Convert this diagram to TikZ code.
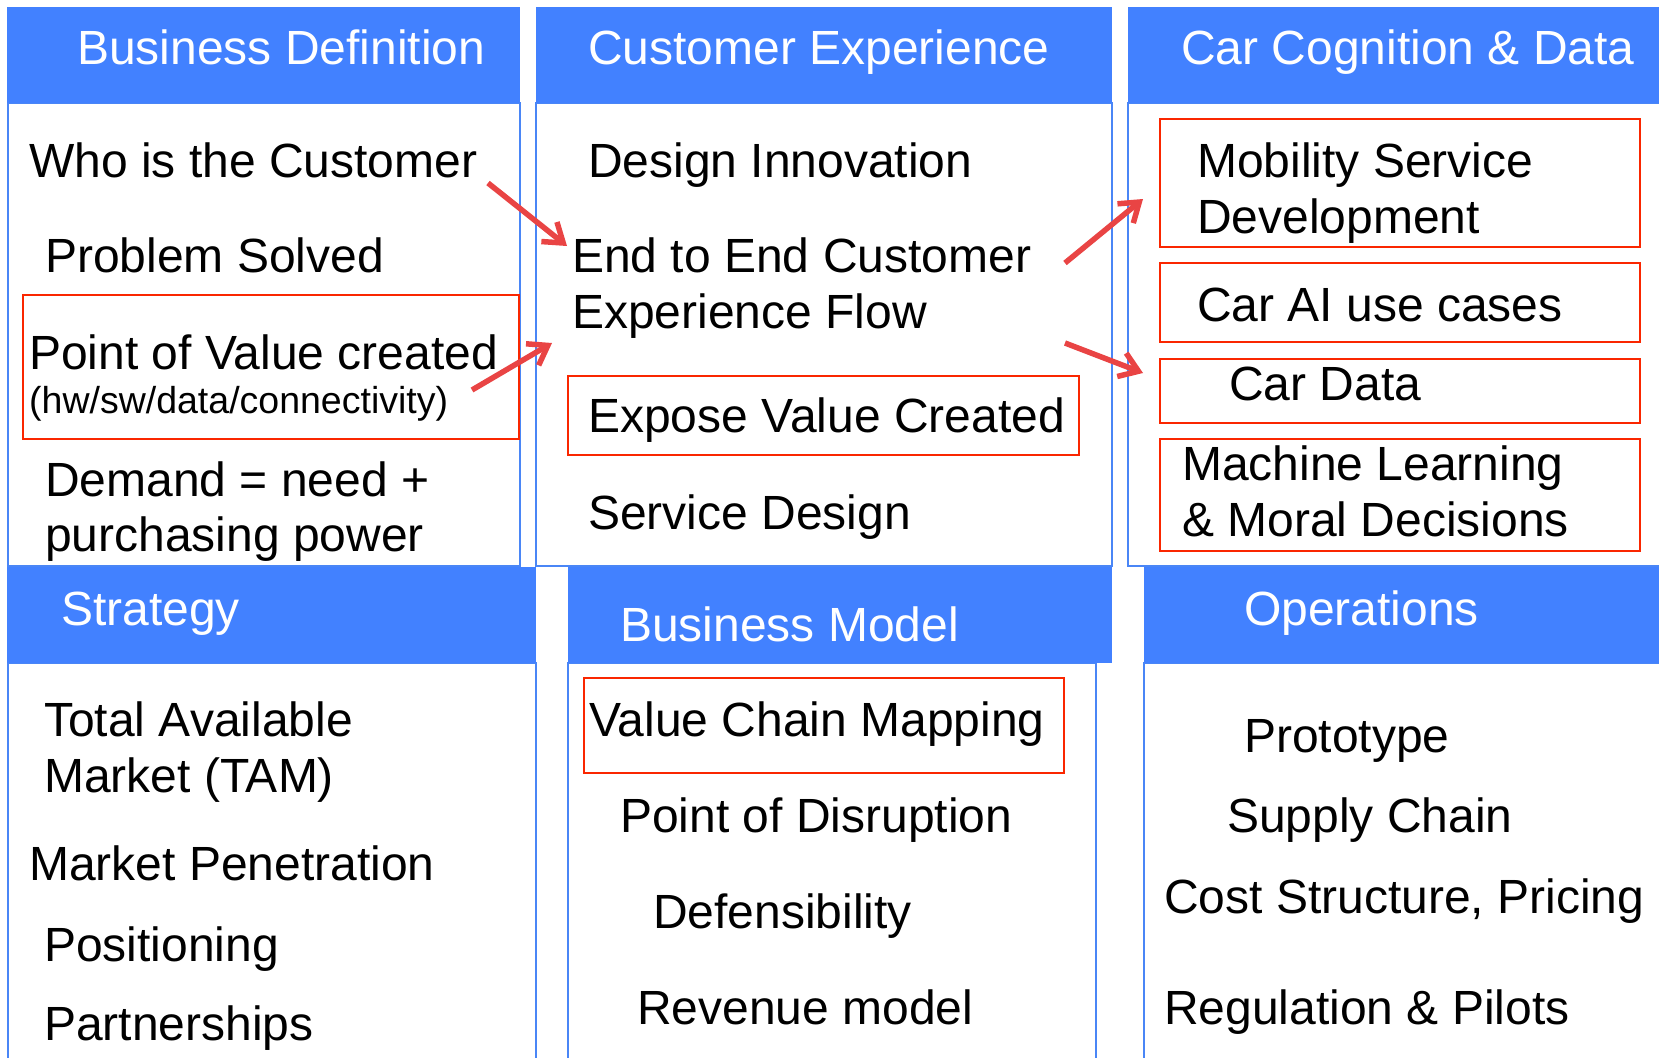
\documentclass[tikz,border=0pt]{standalone}
\usepackage{fontspec}
\setmainfont{Liberation Sans}
\usetikzlibrary{arrows.meta}

\definecolor{hdrblue}{RGB}{66,129,255}
\definecolor{lineblue}{RGB}{74,134,246}
\definecolor{boxred}{RGB}{250,38,0}
\definecolor{arrowred}{RGB}{233,68,68}

\newcommand\bodyfont{\fontsize{48}{56}\selectfont}
\newcommand\notefont{\fontsize{37.5}{44}\selectfont}

\tikzset{
  hdr/.style={fill=hdrblue},
  panel/.style={draw=lineblue, line width=1.5pt},
  redbox/.style={draw=boxred, line width=2pt},
  lbl/.style={anchor=base west, inner sep=0pt, font=\bodyfont},
  hlbl/.style={lbl, text=white},
  link/.style={draw=arrowred, line width=5.5pt, -{Straight Barb[length=18pt,width=25pt]}},
}

\begin{document}
\begin{tikzpicture}[x=1pt,y=-1pt]
  \useasboundingbox (0,0) rectangle (1659,1057);
  \clip (0,0) rectangle (1659,1057);

  % panels
  \draw[panel] (8,103) rectangle (520,566);
  \draw[panel] (536,103) rectangle (1112,566);
  \draw[panel] (1128,103) rectangle (1680,566);
  \draw[panel] (8,663) rectangle (536,1080);
  \draw[panel] (568,663) rectangle (1096,1080);
  \draw[panel] (1144,663) rectangle (1680,1080);

  % headers
  \fill[hdr] (7,7) rectangle (520,103);
  \fill[hdr] (536,7) rectangle (1112,103);
  \fill[hdr] (1128,7) rectangle (1680,103);
  \fill[hdr] (7,567) rectangle (536,663);
  \fill[hdr] (568,567) rectangle (1112,663);
  \fill[hdr] (1144,567) rectangle (1680,663);

  \node[hlbl] (bdef) at (77,64) {Business Definition};
  \node[hlbl] (cexp) at (588,64) {Customer Experience};
  \node[hlbl] (ccog) at (1181,64) {Car Cognition \& Data};
  \node[hlbl] (strat) at (61,625) {Strategy};
  \node[hlbl] (bmod) at (620,641) {Business Model};
  \node[hlbl] (ops) at (1244,625) {Operations};

  % highlighted items
  \draw[redbox] (23,295) rectangle (519,439);
  \draw[redbox] (568,376) rectangle (1079,455);
  \draw[redbox] (1160,119) rectangle (1640,247);
  \draw[redbox] (1160,263) rectangle (1640,342);
  \draw[redbox] (1160,359) rectangle (1640,423);
  \draw[redbox] (1160,439) rectangle (1640,551);
  \draw[redbox] (584,678) rectangle (1064,773);

  % business definition
  \node[lbl] (who) at (29,177) {Who is the Customer};
  \node[lbl] (prob) at (45,272) {Problem Solved};
  \node[lbl] (pov) at (29,369) {Point of Value created};
  \node[lbl, font=\notefont] (povnote) at (29,413) {(hw/sw/data/connectivity)};
  \node[lbl] (dem1) at (45,496) {Demand = need +};
  \node[lbl] (dem2) at (45,551) {purchasing power};

  % customer experience
  \node[lbl] (design) at (588,177) {Design Innovation};
  \node[lbl] (flow1) at (572,272) {End to End Customer};
  \node[lbl] (flow2) at (572,328) {Experience Flow};
  \node[lbl] (expose) at (588,432) {Expose Value Created};
  \node[lbl] (service) at (588,529) {Service Design};

  % car cognition & data
  \node[lbl] (mob1) at (1197,177) {Mobility Service};
  \node[lbl] (mob2) at (1197,233) {Development};
  \node[lbl] (carai) at (1197,321) {Car AI use cases};
  \node[lbl] (cardata) at (1229,400) {Car Data};
  \node[lbl] (ml1) at (1182,480) {Machine Learning};
  \node[lbl] (ml2) at (1182,536) {\& Moral Decisions};

  % strategy
  \node[lbl] (tam1) at (44,736) {Total Available};
  \node[lbl] (tam2) at (44,792) {Market (TAM)};
  \node[lbl] (pen) at (29,880) {Market Penetration};
  \node[lbl] (posn) at (44,961) {Positioning};
  \node[lbl] (part) at (44,1040) {Partnerships};

  % business model
  \node[lbl] (vcm) at (589,736) {Value Chain Mapping};
  \node[lbl] (disr) at (620,832) {Point of Disruption};
  \node[lbl] (defn) at (653,928) {Defensibility};
  \node[lbl] (rev) at (637,1024) {Revenue model};

  % operations
  \node[lbl] (proto) at (1244,752) {Prototype};
  \node[lbl] (supply) at (1227,832) {Supply Chain};
  \node[lbl] (cost) at (1164,913) {Cost Structure, Pricing};
  \node[lbl] (reg) at (1164,1024) {Regulation \& Pilots};

  % arrows
  \coordinate (who-out) at (488,183);
  \coordinate (flow-in1) at (567,246);
  \coordinate (pov-out) at (472,390);
  \coordinate (flow-in2) at (552,343);
  \coordinate (flow-out1) at (1065,263);
  \coordinate (mob-in) at (1143,199);
  \coordinate (flow-out2) at (1065,343);
  \coordinate (data-in) at (1143,373);
  \draw[link] (who-out) -- (flow-in1);
  \draw[link] (pov-out) -- (flow-in2);
  \draw[link] (flow-out1) -- (mob-in);
  \draw[link] (flow-out2) -- (data-in);
\end{tikzpicture}
\end{document}
